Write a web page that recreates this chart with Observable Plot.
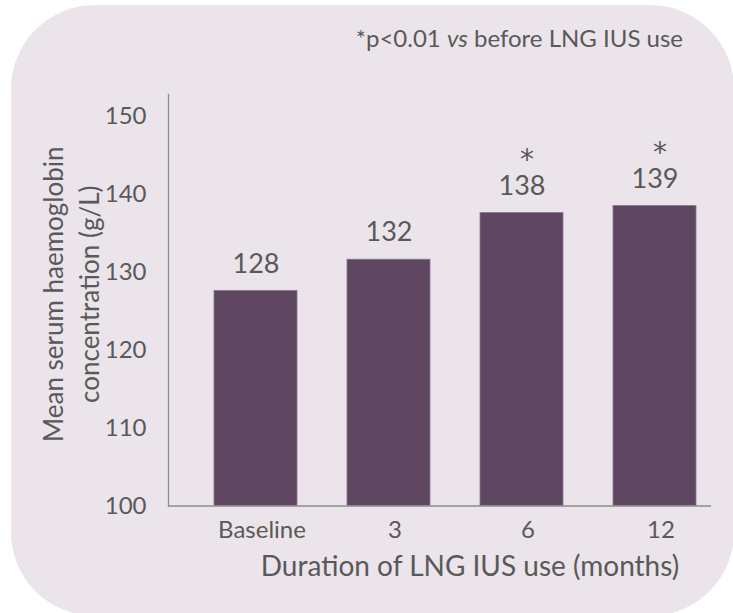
<!DOCTYPE html>
<html>
<head>
<meta charset="utf-8">
<script src="https://cdn.jsdelivr.net/npm/d3@7"></script>
<script src="https://cdn.jsdelivr.net/npm/@observablehq/plot@0.6"></script>
<style>
  body { margin: 0; background: #ffffff; }
  #wrap { position: relative; width: 733px; height: 613px; overflow: hidden; }
  #bg { position: absolute; left: 11px; top: 5px; width: 723px; height: 611px; border-radius: 84px; background: #ebe4eb; }
  #note { position: absolute; right: 50px; top: 23px; font-family: Lato, sans-serif; font-size: 24px; line-height: 30px; color: #595959; white-space: nowrap; }
  #chart { position: absolute; left: 0; top: 0; }
</style>
</head>
<body>
<div id="wrap">
  <div id="bg"></div>
  <div id="note">*p&lt;0.01 <i>vs</i> before LNG IUS use</div>
  <div id="chart"></div>
</div>
<script>
const categories = ["Baseline", "3", "6", "12"];
const values = [127.6, 131.6, 137.6, 138.5];
const valueLabels = ["128", "132", "138", "139"];
const significant = [false, false, true, true];
const yTicks = [100, 110, 120, 130, 140, 150];
const yLabel = "Mean serum haemoglobin\nconcentration (g/L)";
const xLabel = "Duration of LNG IUS use (months)";

const data = categories.map((c, i) => ({c, v: values[i], label: valueLabels[i], sig: significant[i]}));

const chart = Plot.plot({
  width: 733,
  height: 613,
  marginLeft: 168,
  marginRight: 22,
  marginTop: 94,
  marginBottom: 107.5,
  style: {background: "transparent", fontFamily: "Lato, sans-serif", color: "#595959", overflow: "visible"},
  x: {domain: categories, paddingInner: 0.375, paddingOuter: 0.221, align: 0.76, label: null},
  y: {domain: [100, 152.8], label: null},
  marks: [
    Plot.barY(data, {x: "c", y1: 100, y2: "v", fill: "#5f4761", stroke: "#8a7590", strokeWidth: 0.8}),
    Plot.text(data, {x: "c", y: "v", text: "label", dy: -27, fontSize: 27, fill: "#595959"}),
    Plot.text(data.filter(d => d.sig), {x: "c", y: "v", text: () => "*", dy: -53, dx: 5, fontSize: 28, fontFamily: "DejaVu Sans", fill: "#595959"}),
    Plot.axisY({ticks: yTicks, tickSize: 0, tickPadding: 22, fontSize: 24, label: null, fill: "#595959"}),
    Plot.axisX({tickSize: 0, tickPadding: 15, fontSize: 24, dx: 6, label: null, fill: "#595959"}),
    Plot.frame({anchor: "left", stroke: "#8c8c8c", strokeWidth: 1.3}),
    Plot.ruleY([100], {stroke: "#8c8c8c", strokeWidth: 1.3}),
    Plot.text([xLabel], {frameAnchor: "bottom", text: d => d, dx: 30, dy: 70, fontSize: 28, fill: "#595959"}),
    Plot.text([yLabel], {frameAnchor: "left", textAnchor: "middle", text: d => d, rotate: -90, dx: -99, dy: -6, fontSize: 26, lineHeight: 1.4, fill: "#595959"})
  ]
});
document.getElementById("chart").appendChild(chart);
</script>
</body>
</html>
